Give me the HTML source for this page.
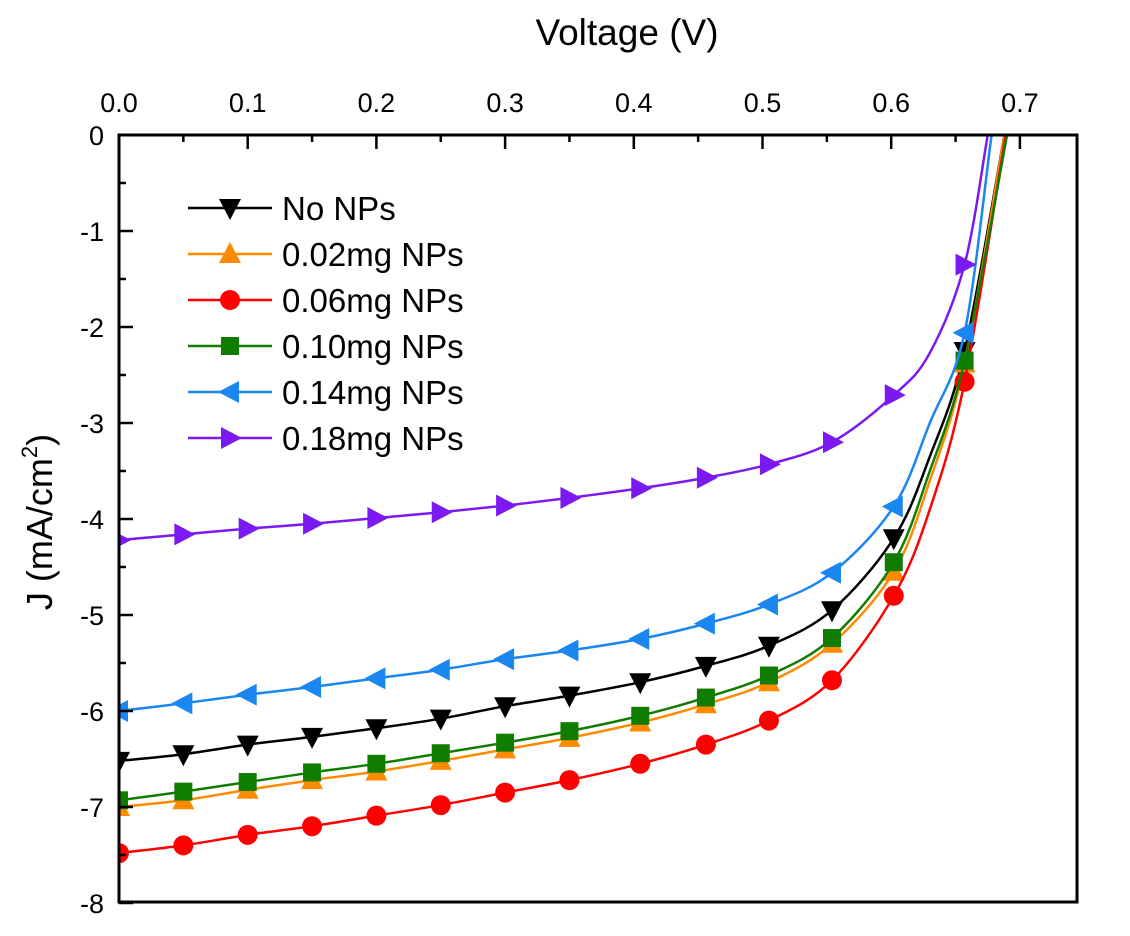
<!DOCTYPE html>
<html><head><meta charset="utf-8"><style>
body{margin:0;background:#fff;}
svg{display:block;font-family:"Liberation Sans",Arial,sans-serif;}
</style></head><body>
<svg id="chart" width="1130" height="936" viewBox="0 0 1130 936" xmlns="http://www.w3.org/2000/svg">
<defs><clipPath id="clip"><rect x="119" y="135" width="958" height="767"/></clipPath></defs>
<g id="series" clip-path="url(#clip)"></g>
<rect x="119" y="135" width="958" height="767" fill="none" stroke="#000" stroke-width="3"/>
<g id="axes"></g>
<text x="627" y="45" font-size="37" text-anchor="middle">Voltage (V)</text>
<text transform="translate(52,522) rotate(-90)" font-size="36" text-anchor="middle">J (mA/cm<tspan font-size="22" dy="-15">2</tspan><tspan dy="15">)</tspan></text>
<g id="legend"></g>
</svg>
<script>
const voltages=[0,0.05,0.1,0.15,0.2,0.25,0.3,0.35,0.405,0.456,0.505,0.554,0.602,0.63,0.657];
const markerIdx=[0,1,2,3,4,5,6,7,8,9,10,11,12,14];
const seriesNames=["No NPs","0.02mg NPs","0.06mg NPs","0.10mg NPs","0.14mg NPs","0.18mg NPs"];
const jNo=[-6.52,-6.45,-6.35,-6.27,-6.18,-6.08,-5.95,-5.84,-5.70,-5.53,-5.32,-4.95,-4.20,-3.35,-2.25];
const j002=[-7.0,-6.93,-6.82,-6.72,-6.63,-6.52,-6.40,-6.28,-6.12,-5.93,-5.70,-5.30,-4.55,-3.6,-2.38];
const j006=[-7.48,-7.40,-7.29,-7.20,-7.09,-6.98,-6.85,-6.72,-6.55,-6.35,-6.10,-5.68,-4.80,-3.9,-2.57];
const j010=[-6.93,-6.84,-6.74,-6.64,-6.55,-6.44,-6.33,-6.21,-6.05,-5.86,-5.63,-5.24,-4.45,-3.5,-2.35];
const j014=[-6.0,-5.92,-5.83,-5.75,-5.66,-5.57,-5.46,-5.37,-5.25,-5.09,-4.89,-4.56,-3.87,-3.0,-2.06];
const j018=[-4.22,-4.16,-4.10,-4.05,-3.99,-3.93,-3.86,-3.78,-3.68,-3.57,-3.43,-3.20,-2.71,-2.27,-1.35];
const vocs=[0.688,0.688,0.689,0.69,0.678,0.675];
const xTicks=[0,0.1,0.2,0.3,0.4,0.5,0.6,0.7];
const yTicks=[0,-1,-2,-3,-4,-5,-6,-7,-8];
const colors=["#000000","#ff8a00","#ff0000","#117d00","#1a86f0","#7b1af0"];
const shapes=["down","up","circle","square","left","right"];
const allJ=[jNo,j002,j006,j010,j014,j018];

const NS="http://www.w3.org/2000/svg";
const X=v=>119+v*1287;
const Y=j=>135-j*96;
function mk(t,a,p){const e=document.createElementNS(NS,t);for(const k in a)e.setAttribute(k,a[k]);p.appendChild(e);return e;}
const axes=document.getElementById('axes');
xTicks.forEach(v=>{
  const t=mk('line',{x1:X(v),x2:X(v),y1:135,y2:149,stroke:'#000','stroke-width':2.5},axes);
  
  
  if(v<0.7){const m=mk('line',{x1:X(v+0.05),x2:X(v+0.05),y1:135,y2:142,stroke:'#000','stroke-width':2.5},axes);
  
  }
  const l=mk('text',{x:X(v),y:112,'font-size':27,'text-anchor':'middle'},axes);l.textContent=v.toFixed(1);
  
  
});
yTicks.forEach(j=>{
  const t=mk('line',{x1:119,x2:133,y1:Y(j),y2:Y(j),stroke:'#000','stroke-width':2.5},axes);
  
  
  if(j>-8){const m=mk('line',{x1:119,x2:126,y1:Y(j-0.5),y2:Y(j-0.5),stroke:'#000','stroke-width':2.5},axes);
  
  }
  const l=mk('text',{x:104,y:Y(j)+10,'font-size':27,'text-anchor':'end'},axes);l.textContent=String(j);
  
  
});
function marker(shape,x,y,c,p){
  const s=10;let e;
  if(shape==='circle')e=mk('circle',{cx:x,cy:y,r:10,fill:c},p);
  else if(shape==='square')e=mk('rect',{x:x-9,y:y-9,width:18,height:18,fill:c},p);
  else{let pts;
    if(shape==='down')pts=[[x-s-1,y-s+1],[x+s+1,y-s+1],[x,y+s+2]];
    if(shape==='up')pts=[[x-s-1,y+s-1],[x+s+1,y+s-1],[x,y-s-2]];
    if(shape==='left')pts=[[x+s-1,y-s-1],[x+s-1,y+s+1],[x-s-2,y]];
    if(shape==='right')pts=[[x-s+1,y-s-1],[x-s+1,y+s+1],[x+s+2,y]];
    e=mk('polygon',{points:pts.map(q=>q.join(',')).join(' '),fill:c},p);}
  return e;
}
function smooth(pts){let d=`M${pts[0][0]},${pts[0][1]}`;
  for(let i=0;i<pts.length-1;i++){const p0=pts[Math.max(0,i-1)],p1=pts[i],p2=pts[i+1],p3=pts[Math.min(pts.length-1,i+2)];
    const c1=[p1[0]+(p2[0]-p0[0])/6,p1[1]+(p2[1]-p0[1])/6],c2=[p2[0]-(p3[0]-p1[0])/6,p2[1]-(p3[1]-p1[1])/6];
    d+=` C${c1[0]},${c1[1]} ${c2[0]},${c2[1]} ${p2[0]},${p2[1]}`;}
  return d;}
const sg=document.getElementById('series');
allJ.forEach((js,k)=>{
  const g=mk('g',{},sg);
  
  
  const pts=voltages.map((v,i)=>[X(v),Y(js[i])]);pts.push([X(vocs[k]),Y(0)]);pts.push([X(vocs[k]+0.004),Y(0.3)]);
  mk('path',{d:smooth(pts),fill:'none',stroke:colors[k],'stroke-width':2.5},g);
  markerIdx.forEach(i=>{const m=marker(shapes[k],X(voltages[i]),Y(js[i]),colors[k],g);
    
    });
});
const lg=document.getElementById('legend');
seriesNames.forEach((n,k)=>{
  const y=208+k*46;
  const g=mk('g',{},lg);
  
  
  mk('line',{x1:188,x2:272,y1:y,y2:y,stroke:colors[k],'stroke-width':2.5},g);
  marker(shapes[k],230,y,colors[k],g);
  const t=mk('text',{x:282,y:y+12,'font-size':33},g);t.textContent=n;
});
</script>
</body></html>
